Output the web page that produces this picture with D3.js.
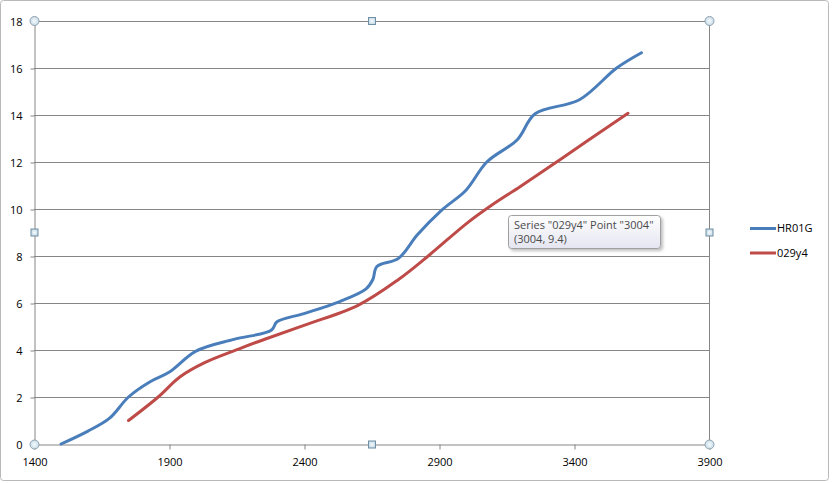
<!DOCTYPE html>
<html><head><meta charset="utf-8">
<script src="https://cdn.jsdelivr.net/npm/d3@7"></script>
<style>body{margin:0;background:#fff}svg{display:block}</style>
</head><body>
<svg id="c" width="832" height="483"></svg>
<script>
const seriesNames = ["HR01G", "029y4"];
const seriesColors = ["#4a7ebb", "#be4b48"];
const hr01gX = [1500,1600,1680,1750,1830,1900,2000,2140,2280,2300,2400,2530,2630,2655,2670,2750,2820,2910,3000,3077,3190,3256,3420,3558,3650];
const hr01gY = [0,0.55,1.1,2.0,2.65,3.05,3.95,4.45,4.85,5.2,5.55,6.05,6.6,7.0,7.55,7.9,8.9,9.95,10.8,12.0,12.95,14.05,14.65,16.0,16.65];
const y029X = [1750,1860,1940,2030,2160,2260,2400,2600,2750,2860,3004,3100,3200,3323,3450,3600];
const y029Y = [1.0,2.0,2.85,3.45,4.05,4.48,5.05,5.9,7.0,8.0,9.4,10.2,10.95,11.9,12.9,14.07];
const xTicks = [1400,1900,2400,2900,3400,3900];
const yTicks = [0,2,4,6,8,10,12,14,16,18];
const tooltipLines = ['Series "029y4" Point "3004"', '(3004, 9.4)'];

const svg = d3.select("#c");
const L = 34, R = 709, T = 21, B = 444;
const x = d3.scaleLinear().domain([1400,3900]).range([L,R]);
const y = d3.scaleLinear().domain([0,18]).range([B,T]);
const font = "'Open Sans', 'DejaVu Sans', sans-serif";

// defs
const defs = svg.append("defs");
const g1 = defs.append("linearGradient").attr("id","tip").attr("x1",0).attr("y1",0).attr("x2",0).attr("y2",1);
g1.append("stop").attr("offset","0").attr("stop-color","#ffffff");
g1.append("stop").attr("offset","1").attr("stop-color","#e4e5f0");
const rg = defs.append("radialGradient").attr("id","hdl");
rg.append("stop").attr("offset","0").attr("stop-color","#f4fbff");
rg.append("stop").attr("offset","1").attr("stop-color","#c9dbe6");
const fl = defs.append("filter").attr("id","sh").attr("x","-10%").attr("y","-20%").attr("width","130%").attr("height","160%");
fl.append("feDropShadow").attr("dx",2).attr("dy",2).attr("stdDeviation",1.5).attr("flood-color","#000").attr("flood-opacity",0.25);

// outer border
svg.append("rect").attr("x",0.5).attr("y",0.5).attr("width",828).attr("height",480).attr("rx",3)
  .attr("fill","#fff").attr("stroke","#b9b9b9");

// gridlines
svg.append("g").selectAll("line").data(yTicks.filter(d=>d>0)).join("line")
  .attr("x1",L).attr("x2",R).attr("y1",d=>Math.round(y(d))+0.5).attr("y2",d=>Math.round(y(d))+0.5)
  .attr("stroke","#868686");
// right border of plot
svg.append("line").attr("x1",R+0.5).attr("x2",R+0.5).attr("y1",T).attr("y2",B).attr("stroke","#868686");

// axes
const yAxis = d3.axisLeft(y).tickValues(yTicks).tickSize(4).tickPadding(8).tickFormat(d3.format("d"));
const gy = svg.append("g").attr("transform",`translate(${L+0.5},0.5)`).call(yAxis);
const xAxis = d3.axisBottom(x).tickValues(xTicks).tickSize(5).tickPadding(9).tickFormat(d3.format("d"));
const gx = svg.append("g").attr("transform",`translate(0.5,${B+0.5})`).call(xAxis);
[gx,gy].forEach(g=>{
  g.select(".domain").attr("stroke","#868686");
  g.selectAll(".tick line").attr("stroke","#868686");
  g.selectAll(".tick text").attr("fill","#000").style("font-family",font).style("font-size","11px");
});
gy.selectAll(".tick text").attr("dy","0.35em");

// series
const line = d3.line().x(d=>x(d[0])).y(d=>y(d[1])).curve(d3.curveCatmullRom.alpha(0.5));
const data = [d3.zip(hr01gX,hr01gY), d3.zip(y029X,y029Y)];
svg.append("g").selectAll("path").data(data).join("path")
  .attr("d",line).attr("fill","none").attr("stroke",(d,i)=>seriesColors[i])
  .attr("stroke-width",3).attr("stroke-linecap","round").attr("stroke-linejoin","round");

// handles
const cx = [L+0.5, R+0.5], cy = [T, B+0.5];
const corners = [];
cx.forEach(a=>cy.forEach(b=>corners.push([a,b])));
svg.append("g").selectAll("circle").data(corners).join("circle")
  .attr("cx",d=>d[0]).attr("cy",d=>d[1]).attr("r",4.5)
  .attr("fill","url(#hdl)").attr("stroke","#8fa3b0");
const mids = [[(L+R)/2+0.5,T],[(L+R)/2+0.5,B+0.5],[L+0.5,(T+B)/2],[R+0.5,(T+B)/2]];
svg.append("g").selectAll("rect").data(mids).join("rect")
  .attr("x",d=>d[0]-3.5).attr("y",d=>d[1]-3.5).attr("width",7).attr("height",7)
  .attr("fill","url(#hdl)").attr("stroke","#6f8fa5");

// legend
const lg = svg.append("g").selectAll("g").data(seriesNames).join("g")
  .attr("transform",(d,i)=>`translate(750,${228.5+i*24.5})`);
lg.append("line").attr("x1",0).attr("x2",26).attr("stroke",(d,i)=>seriesColors[i]).attr("stroke-width",3);
lg.append("text").attr("x",27).attr("dy","0.35em").text(d=>d)
  .style("font-family",font).style("font-size","11px").attr("fill","#000");

// tooltip
const tg = svg.append("g").attr("transform","translate(508,215)");
tg.append("rect").attr("x",0.5).attr("y",0.5).attr("width",152).attr("height",33).attr("rx",3)
  .attr("fill","url(#tip)").attr("stroke","#a0a0a0").attr("filter","url(#sh)");
tg.selectAll("text").data(tooltipLines).join("text")
  .attr("x",6).attr("y",(d,i)=>14+i*14).text(d=>d)
  .style("font-family",font).style("font-size","11px").attr("fill","#4a4a4a");
</script>
</body></html>
